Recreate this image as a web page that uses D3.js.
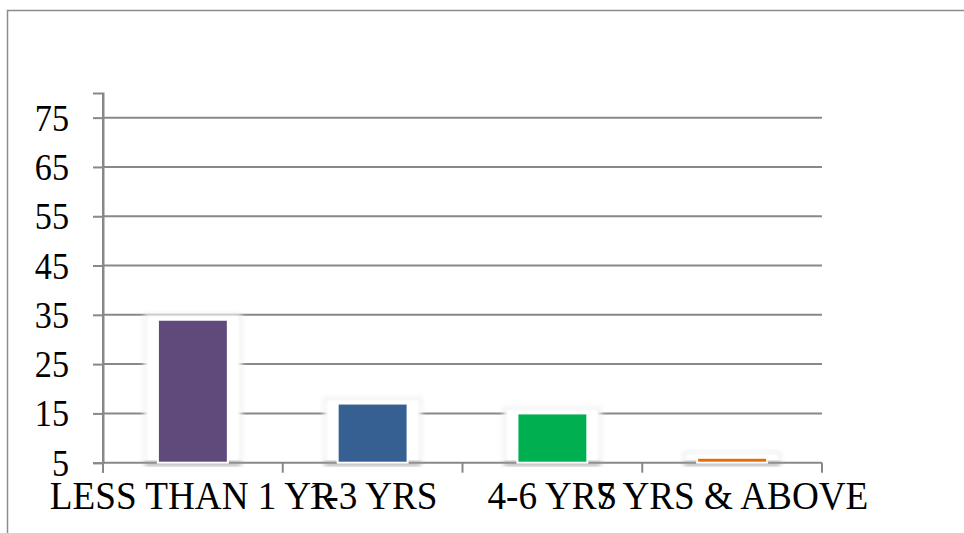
<!DOCTYPE html>
<html>
<head>
<meta charset="utf-8">
<script src="https://cdn.jsdelivr.net/npm/d3@7/dist/d3.min.js"></script>
<style>
  html, body { margin: 0; padding: 0; background: #ffffff; }
  svg { display: block; }
  text { font-family: "Liberation Serif", "Times New Roman", serif; fill: #000; }
</style>
</head>
<body>
<svg id="chart" width="964" height="533"></svg>
<script>
// Experience groups and their values
const categories = ["LESS THAN 1 YR", "1-3 YRS", "4-6 YRS", "7 YRS & ABOVE"];
const values = [34, 17, 15, 6];
const barColors = ["#5f4a7b", "#366092", "#00b050", "#e46c0a"];
const yTicks = [5, 15, 25, 35, 45, 55, 65, 75];

const svg = d3.select("#chart");
const plot = { left: 103, right: 822, top: 93, bottom: 462.7 };
const axisColor = "#888888";
const squeezeY = 0.9;   // narrow serif look for tick numbers
const squeezeX = 0.93;  // and for category names

// chart area frame
svg.append("rect")
  .attr("x", 7.5).attr("y", 10.5)
  .attr("width", 1000).attr("height", 600)
  .attr("fill", "#fff")
  .attr("stroke", "#8c8c8c").attr("stroke-width", 1.5);

const y = d3.scaleLinear().domain([5, 80]).range([plot.bottom, plot.top]);
const x = d3.scaleBand().domain(categories)
  .range([plot.left, plot.right])
  .paddingInner(0.611).paddingOuter(0.3055);

// soft glow used around the bars
const defs = svg.append("defs");
defs.append("filter").attr("id", "halo")
  .attr("x", "-30%").attr("y", "-30%").attr("width", "160%").attr("height", "160%")
  .append("feGaussianBlur").attr("stdDeviation", 2.6);

// horizontal gridlines
svg.append("g").selectAll("line")
  .data(yTicks.filter(t => t !== 5))
  .join("line")
  .attr("x1", plot.left).attr("x2", plot.right)
  .attr("y1", d => y(d)).attr("y2", d => y(d))
  .attr("stroke", axisColor).attr("stroke-width", 2);

// y axis with tick labels
const yAxis = svg.append("g")
  .attr("transform", `translate(${plot.left},0)`)
  .call(d3.axisLeft(y).tickValues(yTicks).tickSize(10).tickPadding(23).tickFormat(d3.format("d")));
yAxis.select(".domain").attr("stroke", axisColor).attr("stroke-width", 2);
yAxis.selectAll(".tick line").attr("stroke", axisColor).attr("stroke-width", 2);
yAxis.selectAll(".tick text")
  .attr("font-family", "Liberation Serif, serif")
  .attr("font-size", 38).attr("fill", "#000")
  .attr("x", -34 / squeezeY)
  .attr("dy", "0.33em")
  .attr("transform", `scale(${squeezeY},1)`);

// bar halos (white glow with a faint grey rim)
const halo = svg.append("g");
halo.selectAll("rect.rim")
  .data(categories)
  .join("rect")
  .attr("x", d => x(d) - 13)
  .attr("y", (d, i) => y(values[i]) - 5)
  .attr("width", x.bandwidth() + 26)
  .attr("height", (d, i) => plot.bottom - y(values[i]) + 5)
  .attr("fill", "#ffffff")
  .attr("stroke", "#e6e6e6").attr("stroke-width", 2)
  .attr("filter", "url(#halo)");
halo.selectAll("rect.core")
  .data(categories)
  .join("rect")
  .attr("x", d => x(d) - 10)
  .attr("y", (d, i) => y(values[i]) - 3)
  .attr("width", x.bandwidth() + 20)
  .attr("height", (d, i) => plot.bottom - y(values[i]) + 3)
  .attr("fill", "#ffffff");

// x axis baseline and boundary ticks
const step = x.step();
const bounds = d3.range(categories.length + 1).map(i => plot.left + i * step);
svg.append("line")
  .attr("x1", plot.left).attr("x2", plot.right)
  .attr("y1", plot.bottom).attr("y2", plot.bottom)
  .attr("stroke", axisColor).attr("stroke-width", 2);
svg.append("g").selectAll("line")
  .data(bounds)
  .join("line")
  .attr("x1", d => d).attr("x2", d => d)
  .attr("y1", plot.bottom).attr("y2", plot.bottom + 10)
  .attr("stroke", axisColor).attr("stroke-width", 2);

// grey shadow along the base of each bar
svg.append("g").selectAll("rect")
  .data(categories)
  .join("rect")
  .attr("x", d => x(d) - 13)
  .attr("y", plot.bottom - 1)
  .attr("width", x.bandwidth() + 26)
  .attr("height", 3.5)
  .attr("fill", "#9a9a9a")
  .attr("filter", "url(#halo)");

// bars
svg.append("g").selectAll("rect")
  .data(categories)
  .join("rect")
  .attr("x", d => x(d))
  .attr("y", (d, i) => y(values[i]))
  .attr("width", x.bandwidth())
  .attr("height", (d, i) => plot.bottom - y(values[i]))
  .attr("fill", (d, i) => barColors[i])
  .attr("stroke", "#ffffff").attr("stroke-width", 2);

// category labels
svg.append("g").selectAll("text")
  .data(categories)
  .join("text")
  .attr("transform", d => `translate(${x(d) + x.bandwidth() / 2},509) scale(${squeezeX},1)`)
  .attr("text-anchor", "middle")
  .attr("font-size", 40)
  .text(d => d);

// keep the axis line above the halos
svg.append("line")
  .attr("x1", plot.left).attr("x2", plot.left)
  .attr("y1", plot.top).attr("y2", plot.bottom + 10)
  .attr("stroke", axisColor).attr("stroke-width", 2);
</script>
</body>
</html>
